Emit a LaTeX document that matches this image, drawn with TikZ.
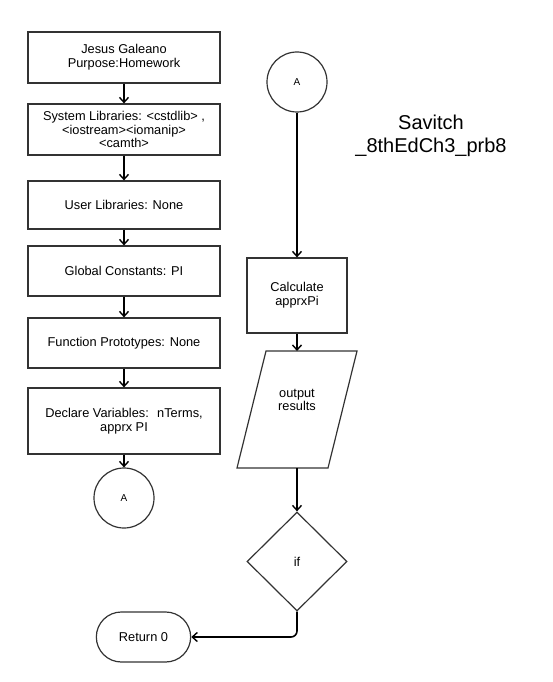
\documentclass[tikz,border=0pt]{standalone}
\usepackage{fontspec}
\setmainfont{Liberation Sans}
\usetikzlibrary{arrows.meta,shapes.geometric,shapes.misc}
\begin{document}
\begin{tikzpicture}[x=1pt,y=-1pt,
  txt/.style={font=\fontsize{12.8}{13.8}\selectfont},
  box/.style={draw=black!80,line width=1.2pt,minimum width=192pt,align=center,txt},
  cbox/.style={draw=black!80,line width=1.2pt,align=center,txt},
  conn/.style={draw=black!80,line width=1.2pt,circle,minimum size=60pt,inner sep=0pt,font=\fontsize{10}{12}\selectfont},
  arr/.style={line width=1.6pt,-{Straight Barb[length=5pt,width=9pt,line width=1.4pt]}},
  shp/.style={draw=black!80,line width=1.2pt}]
\useasboundingbox (0,0) rectangle (553,682);
% left column
\node[box,minimum height=51pt] (b1) at (124,57.5) {Jesus Galeano\\Purpose:Homework};
\node[box,minimum height=51pt] (b2) at (124,129.5) {System Libraries: <cstdlib> ,\\<iostream><iomanip>\\<camth>};
\node[box,minimum height=48pt] (b3) at (124,205) {User Libraries: None};
\node[box,minimum height=50pt] (b4) at (124,271) {Global Constants: PI};
\node[box,minimum height=50pt] (b5) at (124,343) {Function Prototypes: None};
\node[box,minimum height=66pt] (b6) at (124,421) {Declare Variables:~ nTerms,\\apprx PI};
\node[conn] (a1) at (124,498) {A};
\draw[arr] (b1) -- (b2);
\draw[arr] (b2) -- (b3);
\draw[arr] (b3) -- (b4);
\draw[arr] (b4) -- (b5);
\draw[arr] (b5) -- (b6);
\draw[arr] (b6) -- (a1);
% right column
\node[conn] (a2) at (297,82) {A};
\node[cbox,minimum width=100pt,minimum height=75pt] (calc) at (297,295.5) {Calculate\\apprxPi};
\draw[shp] (266,351) -- (357,351) -- (328,468) -- (237,468) -- cycle;
\coordinate (outtop) at (297,351);
\coordinate (outbot) at (297,468);
\node[align=center,txt] (out) at (297,400) {output\\results};
\node[diamond,draw=black!80,line width=1.2pt,minimum width=100pt,minimum height=99pt,inner sep=0pt,aspect=1,txt] (if) at (297,561.5) {if};
\node[rounded rectangle,draw=black!80,line width=1.2pt,minimum width=101pt,minimum height=50pt,txt] (ret) at (143.5,637) {Return 0};
\draw[arr] (a2) -- (calc);
\draw[arr] (calc) -- (outtop);
\draw[arr] (outbot) -- (if.north);
\coordinate (corner) at (if.south |- ret.east);
\draw[arr,rounded corners=6pt] (if.south) -- (corner) -- (ret.east);
% title
\node[align=center,font=\fontsize{20}{23}\selectfont] (title) at (431,136) {Savitch\\\_8thEdCh3\_prb8};
\end{tikzpicture}
\end{document}
